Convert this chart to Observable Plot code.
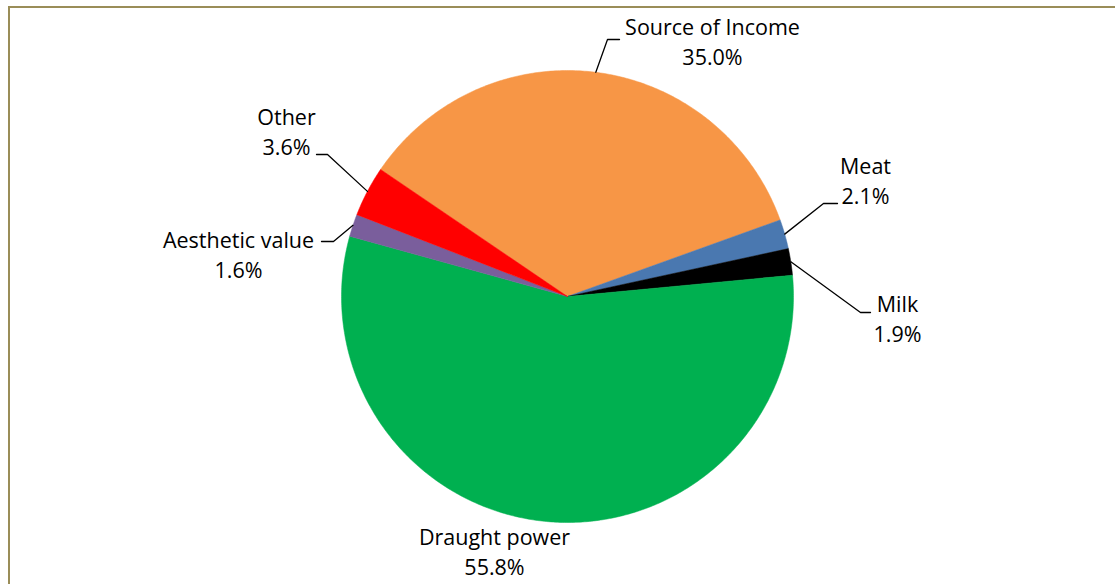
<!DOCTYPE html>
<html>
<head>
<meta charset="utf-8">
<script src="https://cdn.jsdelivr.net/npm/d3@7"></script>
<script src="https://cdn.jsdelivr.net/npm/@observablehq/plot@0.6"></script>
<style>
  html, body { margin: 0; padding: 0; background: #ffffff; }
  #wrap { position: relative; width: 1115px; height: 584px; overflow: hidden; background: #fff; }
  #frame { position: absolute; left: 8px; top: 6px; right: -10px; bottom: -10px;
           border-top: 2px solid #9a8d58; border-left: 2px solid #9a8d58; pointer-events: none; }
  #chart { position: absolute; left: 0; top: 0; }
</style>
</head>
<body>
<div id="wrap"><div id="chart"></div><div id="frame"></div></div>
<script>
// ---- data (clockwise order as drawn) ----
const categories = ["Source of Income", "Meat", "Milk", "Draught power", "Aesthetic value", "Other"];
const shares = [35.0, 2.1, 1.9, 55.8, 1.6, 3.6];
const sliceColors = ["#F79646", "#4A78B0", "#000000", "#00B050", "#7A5E9C", "#FF0000"];
const pctLabels = ["35.0%", "2.1%", "1.9%", "55.8%", "1.6%", "3.6%"];

// ---- layout (pixels in the 1115x584 frame) ----
const firstSliceAngleDeg = -55.8;           // start of first slice, clockwise from 12 o'clock
const pieCenter = [567, 296];
const pieRadius = 226;
const labelCenters = [[712, 40], [865, 179], [897, 317], [494, 550], [238, 253], [286, 130]];
const leaderElbows = [[607, 39], [823, 203], [860, 312], null, [333, 241], [327, 154]];
const leaderEnds   = [[619, 39], [837, 203], [870, 312], null, [321, 241], [316, 154]];

// unit conversions
const toUx = px => (px - pieCenter[0]) / pieRadius;
const toUy = py => (pieCenter[1] - py) / pieRadius;

const a0 = firstSliceAngleDeg * Math.PI / 180;
const pie = d3.pie().sort(null).value(d => d).startAngle(a0).endAngle(a0 + 2 * Math.PI)(shares);

// slice outlines (unit circle geometry)
const verts = [];
pie.forEach((p, i) => {
  const name = categories[i];
  verts.push({name, x: 0, y: 0});
  const n = Math.max(4, Math.ceil((p.endAngle - p.startAngle) / 0.01));
  for (let k = 0; k <= n; k++) {
    const a = p.startAngle + (p.endAngle - p.startAngle) * k / n;
    verts.push({name, x: Math.sin(a), y: Math.cos(a)});
  }
  verts.push({name, x: 0, y: 0});
});

// leader lines
const leaders = [];
pie.forEach((p, i) => {
  if (!leaderElbows[i]) return;
  const mid = (p.startAngle + p.endAngle) / 2;
  const name = categories[i];
  leaders.push({name, x: Math.sin(mid), y: Math.cos(mid)});
  leaders.push({name, x: toUx(leaderElbows[i][0]), y: toUy(leaderElbows[i][1])});
  leaders.push({name, x: toUx(leaderEnds[i][0]), y: toUy(leaderEnds[i][1])});
});

const labels = categories.map((c, i) => ({
  text: c + "\n" + pctLabels[i],
  x: toUx(labelCenters[i][0]),
  y: toUy(labelCenters[i][1])
}));

const chart = Plot.plot({
  width: 1115,
  height: 584,
  margin: 0,
  style: {background: "transparent", fontFamily: "'Open Sans', Lato, sans-serif"},
  x: {domain: [-1, 1], range: [pieCenter[0] - pieRadius, pieCenter[0] + pieRadius], axis: null},
  y: {domain: [1, -1], range: [pieCenter[1] - pieRadius, pieCenter[1] + pieRadius], axis: null},
  color: {domain: categories, range: sliceColors},
  marks: [
    Plot.line(verts, {x: "x", y: "y", z: "name", fill: "name", stroke: "name", strokeWidth: 0.5, curve: "linear"}),
    Plot.line(leaders, {x: "x", y: "y", z: "name", stroke: "#000", strokeWidth: 1.3}),
    Plot.text(labels, {x: "x", y: "y", text: "text", fontSize: 21.5, lineHeight: 1.4, fill: "#000",
                       textAnchor: "middle", lineAnchor: "middle"})
  ]
});
document.getElementById("chart").appendChild(chart);
</script>
</body>
</html>
